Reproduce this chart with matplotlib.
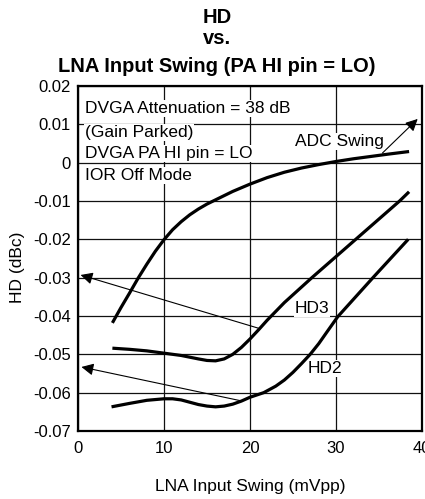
import matplotlib
matplotlib.use('Agg')
import matplotlib.pyplot as plt

plt.rcParams['font.family'] = ['Liberation Sans', 'DejaVu Sans']

# curves (x in mVpp, y in dBc)
adc_x = [4, 5, 6, 7, 8, 9, 10, 11, 12, 13, 14, 15, 16, 18, 20, 22, 24, 26, 28, 30, 32, 34, 36, 38.5]
adc_y = [-0.0418, -0.0378, -0.0340, -0.0301, -0.0265, -0.0231, -0.0201, -0.0175, -0.0154,
         -0.0136, -0.0121, -0.0108, -0.0097, -0.0075, -0.0056, -0.0039, -0.0025, -0.0014,
         -0.0005, 0.0003, 0.0010, 0.0016, 0.0022, 0.0029]

hd3_x = [4, 6, 8, 10, 12, 14, 15, 16, 17, 18, 19, 20, 21, 22, 24, 27.2, 32.3, 37.4, 38.5]
hd3_y = [-0.0484, -0.0487, -0.0491, -0.0497, -0.0503, -0.0512, -0.0516, -0.0517, -0.0512,
         -0.0500, -0.0482, -0.0460, -0.0436, -0.0411, -0.0365, -0.0300, -0.0200, -0.0100, -0.0076]

hd2_x = [3.9, 6, 8, 10, 11, 12, 13, 14, 15, 16, 17, 18, 19, 20, 21.6, 23, 24, 25, 26, 27,
         28, 29, 30.2, 34.3, 38.4]
hd2_y = [-0.0637, -0.0628, -0.0620, -0.0616, -0.0616, -0.0619, -0.0625, -0.0631, -0.0635,
         -0.0637, -0.0635, -0.0630, -0.0622, -0.0612, -0.0600, -0.0583, -0.0567, -0.0547,
         -0.0524, -0.0500, -0.0472, -0.0440, -0.0402, -0.0300, -0.0200]

yticks = [0.02, 0.01, 0, -0.01, -0.02, -0.03, -0.04, -0.05, -0.06, -0.07]
ytick_labels = ['0.02', '0.01', '0', '-0.01', '-0.02', '-0.03', '-0.04', '-0.05', '-0.06', '-0.07']
xticks = [0, 10, 20, 30, 40]

notes = ['DVGA Attenuation = 38 dB', '(Gain Parked)', 'DVGA PA HI pin = LO', 'IOR Off Mode']
notes_y = [0.0130, 0.0067, 0.0012, -0.0045]

title_lines = ['HD', 'vs.', 'LNA Input Swing (PA HI pin = LO)']
title_base_px = [23, 44, 72]

fig = plt.figure(figsize=(4.25, 4.99), dpi=100)
ax = fig.add_axes([0.1835, 0.1363, 0.8094, 0.6914])

ax.set_xlim(0, 40)
ax.set_ylim(-0.07, 0.02)
ax.set_xticks(xticks)
ax.set_xticklabels([str(t) for t in xticks])
ax.set_yticks(yticks)
ax.set_yticklabels(ytick_labels)
ax.tick_params(length=0, labelsize=12, colors='black')
ax.tick_params(axis='y', pad=5)
ax.tick_params(axis='x', pad=7)

ax.set_axisbelow(True)
ax.grid(True, color='#111111', linewidth=0.9)
for s in ax.spines.values():
    s.set_linewidth(1.6)
    s.set_color('black')

for xs, ys in [(adc_x, adc_y), (hd3_x, hd3_y), (hd2_x, hd2_y)]:
    ax.plot(xs, ys, color='black', lw=2.3, solid_capstyle='butt',
            solid_joinstyle='round', zorder=3)

arrow = dict(arrowstyle='-|>', color='black', lw=0.8, mutation_scale=18,
             shrinkA=0, shrinkB=0)
ax.annotate('', xy=(0.3, -0.0293), xytext=(21.0, -0.0432), arrowprops=arrow, zorder=4)
ax.annotate('', xy=(0.4, -0.0533), xytext=(18.9, -0.0621), arrowprops=arrow, zorder=4)
ax.annotate('', xy=(39.5, 0.0114), xytext=(35.4, 0.0025), arrowprops=arrow, zorder=4)

box = dict(facecolor='white', edgecolor='none', pad=0.8)
for txt, yy in zip(notes, notes_y):
    ax.text(0.8, yy, txt, fontsize=12.5, ha='left', va='baseline', bbox=box, zorder=5)

ax.text(25.2, 0.0044, 'ADC Swing', fontsize=12.5, ha='left', va='baseline', bbox=box, zorder=5)
ax.text(25.2, -0.0392, 'HD3', fontsize=12.5, ha='left', va='baseline', bbox=box, zorder=5)
ax.text(26.7, -0.0548, 'HD2', fontsize=12.5, ha='left', va='baseline', bbox=box, zorder=5)

ax.set_xlabel('LNA Input Swing (mVpp)', fontsize=12.5)
ax.xaxis.set_label_coords(0.5, -0.138)
ax.set_ylabel('HD (dBc)', fontsize=12.5)
ax.yaxis.set_label_coords(-0.155, 0.475)

for line, py in zip(title_lines, title_base_px):
    fig.text(0.51, 1 - py / 499, line, fontsize=14.5, fontweight='bold',
             ha='center', va='baseline')

fig.savefig('out.png', dpi=100)
